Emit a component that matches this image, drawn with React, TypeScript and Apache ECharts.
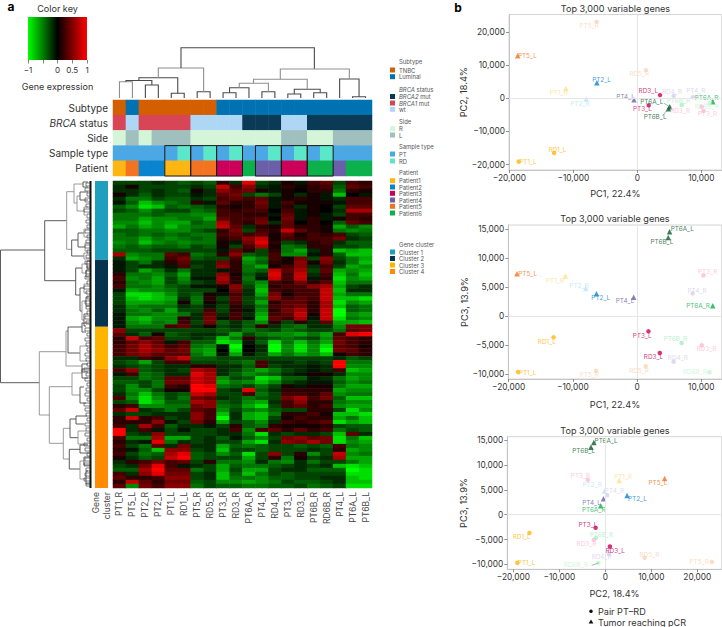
import React, { useEffect, useRef } from "react";
import * as echarts from "echarts";

const FONT = "Inter";

// ---------- data ----------
const sampleNames = ["PT1_R","PT5_L","PT2_R","PT2_L","PT1_L","RD1_L","PT5_R","RD5_R","PT3_R","RD3_R","PT6A_R","PT4_R","RD4_R","PT3_L","RD3_L","PT6B_R","RD6B_R","PT4_L","PT6A_L","PT6B_L"];
const pc1 = [-11170,-18700,-7990,-6320,-18540,-13000,-6370,1360,10340,10080,11800,8670,5690,1780,3550,6950,11280,-520,5070,4860];
const pc2 = [3020,12900,-200,4730,-19130,-16500,23160,8560,-3800,-2500,-1000,400,800,-2100,1000,-2000,-1500,-400,-2500,-3120];
const pc3 = [6920,7320,4780,3860,-9680,-3690,-9510,-8700,7030,-5070,1790,3920,-7900,-2650,-6400,-4670,-9740,3230,14580,13600];
const pcrSamples = ["PT5_L","PT1_R","PT2_R","PT2_L","PT4_L","PT6A_R","PT6A_L","PT6B_L"];

const annotationNames = ["Subtype","BRCA status","Side","Sample type","Patient"];
const subtypeRow = ["TNBC","Luminal","TNBC","TNBC","TNBC","TNBC","TNBC","TNBC","Luminal","Luminal","Luminal","Luminal","Luminal","Luminal","Luminal","Luminal","Luminal","Luminal","Luminal","Luminal"];
const brcaRow = ["BRCA1 mut","wt","BRCA1 mut","BRCA1 mut","BRCA1 mut","BRCA1 mut","wt","wt","wt","wt","BRCA2 mut","BRCA2 mut","BRCA2 mut","wt","wt","BRCA2 mut","BRCA2 mut","BRCA2 mut","BRCA2 mut","BRCA2 mut"];
const sideRow = ["R","L","R","L","L","L","R","R","R","R","R","R","R","L","L","R","R","L","L","L"];
const sampleTypeRow = ["PT","PT","PT","PT","PT","RD","PT","RD","PT","RD","PT","PT","RD","PT","RD","PT","RD","PT","PT","PT"];
const patientRow = ["Patient1","Patient5","Patient2","Patient2","Patient1","Patient1","Patient5","Patient5","Patient3","Patient3","Patient6","Patient4","Patient4","Patient3","Patient3","Patient6","Patient6","Patient4","Patient6","Patient6"];
const annotationRows = [subtypeRow, brcaRow, sideRow, sampleTypeRow, patientRow];
const pairBoxes = [[4,5],[6,7],[8,9],[11,12],[13,14],[15,16]];

const clusterNames = ["Cluster 1","Cluster 2","Cluster 3","Cluster 4"];
const clusterGenes = [770,655,410,1165];

// expression in tenths (-10..10), one row per gene band, columns as sampleNames
const cluster1Rows = [
[-3,-3,-3,-2,-3,-4,-3,-4,2,-2,9,-3,-2,1,-1,3,4,-3,3,2],
[-2,1,-3,-3,-3,-3,-2,-3,8,3,6,-2,-1,2,1,2,3,-4,4,3],
[-2,-2,-3,-2,-3,-4,1,-2,6,4,5,1,-1,1,0,2,2,-5,2,1],
[1,-2,-4,-2,-3,-3,-1,-2,4,5,-3,-5,-3,1,-2,1,-1,-8,0,-1],
[-2,-5,-5,-3,-4,-4,-2,-3,3,4,3,4,-1,1,2,1,-1,-2,3,3],
[-1,-4,-8,-6,-5,-4,2,-1,4,2,2,5,-1,3,1,1,1,-1,3,3],
[-4,-6,-9,-8,-4,-5,-4,-3,2,1,2,4,-1,2,-2,1,0,-3,4,4],
[-3,-4,-6,-4,-3,-3,-5,-4,3,2,3,3,0,3,-1,1,0,-2,7,7],
[-5,-5,-5,-4,-5,-5,-6,-6,3,3,2,2,-1,4,-1,1,-1,-3,3,3],
[-5,-5,-7,-6,-6,-5,-5,-7,4,3,3,4,0,5,-1,2,-1,1,3,2],
[-6,-6,-8,-6,-7,-7,-4,-5,7,3,2,5,-2,4,0,2,0,-4,4,3],
[-7,-5,-7,-6,-8,-6,-5,-5,8,4,-2,2,1,4,2,2,1,-7,-4,-6],
[-4,-4,-5,-5,-6,-6,-4,-3,2,5,-3,3,2,8,4,2,1,-5,-6,-5],
[-5,-4,-5,-4,-5,-4,-5,-5,3,4,3,4,1,4,1,3,2,3,-3,-4],
[-5,-5,-7,-5,-6,-5,-4,-5,2,3,6,8,1,3,2,3,3,5,-2,-3],
[-6,-5,-8,-6,-5,-6,-5,-5,1,-1,5,9,2,-3,-2,2,3,-2,-4,-4],
[-5,-4,-5,-4,-4,-5,-3,-4,1,-3,3,7,1,-5,-4,2,2,-3,-3,-4],
[-4,-4,-4,-3,-3,-3,-3,-3,-1,4,2,-3,2,-5,-7,-2,2,-8,-7,-8],
[7,-6,-5,-5,4,3,-5,-4,2,6,-4,-3,3,-6,-6,-1,2,-4,-8,-8],
[-2,-7,-6,-5,3,5,-4,-3,-3,3,-7,-5,3,1,5,-3,6,-3,-5,-7],
];
const cluster2Rows = [
[-1,-3,-5,-2,2,4,-2,-2,5,2,-6,-4,2,1,6,1,5,-2,-5,-8],
[-1,-3,-2,-2,-1,3,-3,-2,6,2,-5,-7,1,3,6,-2,3,-3,-7,-6],
[-1,-3,-7,-5,-2,-5,-2,-2,-1,2,-5,-4,8,4,7,-3,4,-7,-6,-7],
[2,-5,-5,-6,-4,-7,-2,-2,6,1,-4,-2,9,3,8,-2,3,-8,-5,-8],
[3,-6,-5,-7,-3,-6,-1,-1,7,2,-5,-1,8,3,8,-1,2,-9,-6,-7],
[2,-5,-6,-7,-3,-5,-3,-2,6,2,-4,-6,3,2,5,2,4,-8,-5,-5],
[3,-5,-5,-6,-4,-3,-1,-1,1,6,-3,-7,2,3,3,6,7,-7,-3,-2],
[-1,-7,-6,-6,-5,-3,-3,-3,0,5,-2,-8,3,2,3,3,8,-8,-2,-2],
[-3,-9,-9,-8,-6,-3,-4,1,-1,3,-2,-7,5,1,3,3,8,-7,-5,-5],
[-3,-8,-9,-8,-7,-2,-5,2,-3,4,-3,-5,6,3,4,3,8,-8,-8,-9],
[-3,-7,-7,-7,-6,1,-5,1,-2,3,-3,-7,2,4,4,2,7,-9,-6,-7],
[-2,-6,-5,-5,-5,-2,-3,-1,-3,2,-2,-5,3,4,5,2,7,-8,-4,-5],
[-2,-5,-6,-4,-7,-3,-3,3,-3,2,-1,-6,2,5,7,2,8,-10,-4,-5],
[-1,-5,-5,-6,-6,-5,-2,4,-2,3,-2,-7,3,4,8,1,8,-10,-6,-7],
[-1,-7,-8,-6,-6,2,-2,5,-1,3,-1,-8,4,3,7,-1,8,-9,-5,-6],
[-1,-6,-7,-5,-6,3,-3,5,-4,-2,-4,-6,2,-3,2,-2,4,-7,-7,-8],
[-1,-5,-5,-5,3,4,-2,1,-3,-2,-4,2,-2,-4,-5,-2,-2,-6,5,5],
];
const cluster3Rows = [
[6,-3,-3,-3,-3,-3,-3,-3,-4,-3,-5,-4,-3,-5,-4,-3,-3,-5,4,5],
[4,-2,-4,1,-4,-3,-2,-2,-3,-7,-3,-5,-6,-6,-7,-5,-7,3,9,10],
[2,8,3,4,-3,-3,-2,-3,-8,-5,2,-3,-4,-5,-4,-3,-6,4,3,2],
[2,4,6,4,-1,3,-4,-4,-9,-8,-1,-4,-9,-5,-8,-5,-7,5,3,2],
[3,5,7,5,3,4,-5,-6,-1,-10,0,-2,-10,-6,-9,-6,-9,4,3,1],
[3,5,7,6,4,5,-6,-7,0,-9,0,-2,-10,-6,-9,-6,-10,5,4,2],
[3,5,6,4,4,4,-5,-7,-1,-7,-1,-3,-7,-5,-7,-6,-8,1,3,2],
[-2,-2,3,2,6,8,-4,-4,-3,-3,-3,-3,-3,-3,-3,-3,-3,-2,-4,-3],
[-3,-4,-7,-3,3,3,-3,-3,-3,-4,-5,3,-2,-2,-3,-2,-3,10,-5,-5],
[-2,-3,-4,-3,-2,-2,2,2,-2,-2,-4,3,-3,-2,-2,-1,-2,10,-6,-6],
];
const cluster4Rows = [
[3,6,-4,-3,-2,-3,7,6,-2,-3,-5,-7,-5,-3,-2,-1,-2,3,-8,-7],
[-1,3,-5,-4,-2,-2,9,7,-2,-4,-6,-5,-4,-2,-1,1,1,-2,-6,-6],
[-3,-3,-5,-4,4,4,8,7,-6,-3,-4,-9,-8,-4,-4,-1,-2,-5,-7,-6],
[-4,-4,-3,-5,5,5,8,7,-7,-5,-6,-8,-6,-3,-2,-1,-1,-4,-6,-5],
[-3,-6,-3,-5,3,2,10,9,-5,-4,-3,-5,-3,1,-1,1,1,-5,-7,-7],
[-3,-6,-6,-3,1,1,10,10,-3,-2,9,-4,-2,2,2,2,2,-7,-6,-6],
[-2,-5,-8,-5,-3,-4,8,7,-3,-3,3,-5,-3,3,3,2,4,-6,-5,-5],
[3,-6,-9,-6,-3,-5,5,4,-2,-3,-5,-4,-3,5,7,3,5,-4,-8,-8],
[-3,-4,-9,-7,-4,-4,7,6,-4,-3,-6,-7,-2,3,6,2,2,-5,-6,-6],
[2,3,-6,-6,-5,-5,5,6,-5,-4,-7,-9,-3,3,4,2,3,-6,-7,-7],
[4,8,-2,-3,-5,-3,4,3,-6,-3,-5,-6,-4,-3,-3,2,2,-3,-9,-6],
[-2,-3,-3,-2,-2,-2,6,3,-8,-2,-7,-8,-5,2,2,3,1,-8,-8,-9],
[2,8,2,3,-3,-2,6,3,-10,-2,-7,-8,-3,1,3,2,2,-7,-5,-8],
[2,2,2,6,-1,-3,5,2,-7,-3,-4,-6,-2,3,2,3,4,-9,-7,-8],
[3,-2,7,3,-4,-2,-2,-1,-3,2,-4,-5,2,1,1,1,2,-3,-4,-4],
[10,-2,3,-1,-3,-1,-3,-3,-2,3,-6,3,4,2,4,2,3,-5,-3,-4],
[10,-3,-2,6,-3,-3,-3,-3,-2,-2,-5,-9,-2,-3,-2,-2,-3,-8,4,-2],
[3,-5,-5,7,-7,-7,-3,-2,-4,-1,-4,-6,-3,5,6,4,5,-9,-5,-8],
[2,-2,-1,9,-5,-2,-3,-2,-3,-3,-7,-9,-2,6,5,7,5,-9,-6,-7],
[3,-3,-5,4,-2,5,-2,-2,-7,-4,-5,-4,-3,-3,-4,-3,-4,3,-5,-6],
[2,-1,-4,-8,6,6,-3,-2,-8,-3,-3,-4,-3,-3,-3,-2,-3,2,-7,-6],
[3,-3,-5,-4,7,9,-4,-3,-6,-4,-9,-3,6,-3,2,-6,-3,8,-6,-5],
[1,-2,-4,-3,8,10,-4,-3,-3,-3,-7,-3,2,-5,1,-3,-2,7,-7,-7],
[-2,2,3,5,3,4,-3,2,-5,-5,-6,-2,-5,-6,-2,-5,-3,-3,-5,-7],
[-3,-2,5,9,3,-1,-2,-3,-7,-4,-5,-5,-4,-3,-2,-3,-2,-8,-9,-8],
[-4,-4,7,10,4,4,-5,-3,-7,-3,-7,-7,-3,-2,-2,-4,-4,-4,-10,-9],
[3,-2,6,9,5,5,-3,-2,-8,-4,-8,-5,-3,-4,-3,-3,-3,-3,-9,-9],
[4,2,2,3,6,6,-3,-2,-8,-5,-5,-6,-4,-4,-3,-3,-2,-2,-8,-9],
[2,8,4,2,5,5,-4,-3,-6,-6,-7,-6,-5,-3,-4,-4,-3,-2,-8,-8],
[4,-6,5,3,6,6,-5,-3,-4,-4,-5,-5,-4,-4,-3,-5,-4,-3,-9,-9],
];

// sample dendrogram: [x1, h1, x2, h2, top, shade]
const sampleLinks = [
[0.5,0,1.5,0,16.3,1],[2.5,0,3.5,0,13,0],[1,16.3,3,13,17.5,0],[4.5,0,5.5,0,4.7,0],[2,17.5,5,4.7,20.3,0],
[6.5,0,7.5,0,6.3,0],[3.5,20.3,7,6.3,30,1],[5.25,30,15.55,29,50.3,0],
[8.5,0,9.5,0,5.3,0],[9,5.3,10.5,0,10.3,0],[11.5,0,12.5,0,6.3,0],[9.75,10.3,12,6.3,14.7,1],
[13.5,0,14.5,0,4,0],[15.5,0,16.5,0,5.3,0],[14,4,16,5.3,8.7,0],[10.85,14.7,15,8.7,18.7,1],
[18.5,0,19.5,0,1.3,0],[17.5,0,19,1.3,19,0],[12.92,18.7,18.25,19,29,1],
];
// gene dendrogram: [y1, x1, y2, x2, top, shade]
const geneLinks = [
[69,44.7,201.7,39.3,0.5,0],
[39.7,66.7,99.7,75.7,44.7,0],[10.7,74,68.3,71.7,66.7,1],
[3,83,22,77,74,1],[1,88,6,88,83,0],[15,80,30,84,77,1],[11,88,19,88,80,0],[26,88,34,86,84,1],
[59,78,75,84,71.7,0],[52,84,66,85,78,0],[48,89,56,89,84,1],[62,89,70,89,85,1],[72,88,78,89,84,1],
[87,82,114,80,75.7,0],[83,87,92,86,82,1],[80,90,87,90,87,0],[89,89,96,89,86,0],[107,84,130,82,80,0],[103,88,112,88,84,1],[120,86,139,84,82,1],[116,89,125,89,86,0],[133,88,145,86,84,0],
[170.7,66,234,49.3,39.3,1],[150,68,185,82,66,1],[146,82,172,80,68,0],[142,89,151,86,82,0],[165,88,180,87,80,1],[183,88,191,88,82,0],
[205.7,72,262.3,63.3,49.3,1],[192,82,214,80,72,1],[188,90,197,88,82,0],[206,84,222,86,80,0],
[247.3,70,278,69.3,63.3,1],[238,76,256.7,78,70,0],[268.3,80,288,80,69.3,0],[235,87,243,84,76,0],[250,86,263,88,78,1],[264,88,272,89,80,0],[280,84,298,86,80,1],[290,88,303,90,86,0],[276,90,284,90,84,0],
];
// finest gene branches next to the leaves
const geneLeafLinks = [
[2,90,5,90,86],[7,90,10,90,85],[12,90,15,90,87],[17,90,21,90,85],[23,90,26,90,86],[28,90,31,90,84],[33,90,37,90,87],[39,90,42,90,86],[44,90,47,90,87],[49,90,52,90,85],
[54,90,57,90,87],[59,90,62,90,86],[64,90,67,90,85],[69,90,72,90,87],[74,90,77,90,86],[80,90,83,90,85],[85,90,88,90,87],[90,90,93,90,86],[95,90,98,90,85],[100,90,103,90,87],
[105,90,108,90,84],[110,90,113,90,86],[115,90,118,90,87],[120,90,123,90,85],[125,90,128,90,86],[130,90,133,90,87],[135,90,138,90,85],[140,90,143,90,86],[147,90,150,90,85],[152,90,155,90,87],
[157,90,160,90,85],[162,90,165,90,86],[167,90,170,90,87],[172,90,175,90,85],[177,90,180,90,86],[182,90,185,90,87],[187,90,190,90,84],[192,90,195,90,86],[197,90,200,90,85],[202,90,205,90,87],
[207,90,210,90,86],[212,90,215,90,85],[217,90,220,90,87],[222,90,225,90,84],[227,90,230,90,85],[232,90,235,90,86],[237,90,240,90,87],[242,90,245,90,85],[247,90,250,90,86],[252,90,255,90,85],
[257,90,260,90,87],[262,90,265,90,84],[267,90,270,90,85],[272,90,275,90,87],[277,90,280,90,85],[282,90,285,90,84],[287,90,290,90,86],[292,90,295,90,85],[297,90,300,90,84],[302,90,305,90,86],
];

const xTicks12 = [-20000,-10000,0,10000];
const xTicks3 = [-20000,-10000,0,10000,20000];
const yTicksPc2 = [-20000,-10000,0,10000,20000];
const yTicksPc3 = [-10000,-5000,0,5000,10000,15000];
const keyTicks = [-1,-0.5,0,0.5,1];
const keyLabels = [-1,0,0.5,1];
// leader lines between a label and its point: [x1, y1, x2, y2]
const leaders1 = [[4180,-1510,5070,-2500],[3920,-5240,4860,-3120]];
const leaders3 = [[-2970,-10215,-1500,-9740]];

// ---------- styles and positions ----------
const annotationColors: Record<string,string> = {
  TNBC:"#D35F00",Luminal:"#0072B2","BRCA2 mut":"#0B3A57","BRCA1 mut":"#D84557",wt:"#AED6F5",R:"#D5F5D8",L:"#A0BFBF",PT:"#4CA8E4",RD:"#5CE8C8",
  Patient1:"#FFB612",Patient2:"#0B84CF",Patient3:"#CC0058",Patient4:"#6C5FAA",Patient5:"#F47320",Patient6:"#0DB14B",
};
const clusterColors = ["#1F9FBE","#06344F","#FFB400","#FF8C00"];
const sampleColors: Record<string,string> = {
  PT1_R:"#FFE08C",PT5_L:"#F47320",PT2_R:"#B9E4FF",PT2_L:"#0B84CF",PT1_L:"#FFB612",RD1_L:"#FFB612",PT5_R:"#FBD3B5",RD5_R:"#FBD3B5",PT3_R:"#FFB9D2",RD3_R:"#FFB9D2",
  PT6A_R:"#0DB14B",PT4_R:"#D5D0EC",RD4_R:"#D5D0EC",PT3_L:"#CC0058",RD3_L:"#CC0058",PT6B_R:"#A6F0BE",RD6B_R:"#C4F5CF",PT4_L:"#6C5FAA",PT6A_L:"#0B5D2E",PT6B_L:"#0B5D2E",
};
const offsets1: Record<string,number[]> = {PT5_R:[-7.3,4],PT5_L:[9.7,0.7],RD5_R:[-6.7,3.7],PT2_L:[4.7,-3],PT1_R:[-7,4.3],PT2_R:[-6.3,4.7],RD3_L:[-11.7,-3.7],RD4_R:[-1.7,-3.3],PT4_R:[3,-5.7],PT4_L:[-8.3,-3],PT6A_R:[-6.3,-3.3],PT6B_R:[-3.3,-4],RD6B_R:[-2.7,4],PT3_L:[-6.3,4],RD3_R:[-21.7,4.3],PT3_R:[4,3.3],PT6A_L:[-18,-5],PT6B_L:[-13.3,8.7],RD1_L:[3.3,-3],PT1_L:[9.3,0]};
const offsets2: Record<string,number[]> = {PT6A_L:[12.7,-2.7],PT6B_L:[-6.3,4.3],PT3_R:[4.3,-3.3],PT5_L:[10.7,0.7],PT1_R:[-10.3,4.7],PT2_R:[-6.7,-2.7],PT2_L:[4.3,4],PT4_L:[-8.7,4],PT4_R:[4.3,-2.7],PT6A_R:[-14.7,0.7],PT3_L:[-6.3,4.3],RD1_L:[-6.7,4.3],PT6B_R:[-6.3,-3.7],RD3_R:[4.7,4],RD3_L:[-6.3,4.3],RD4_R:[4.3,-3.3],RD5_R:[-6.7,4.3],PT5_R:[-6.7,4.3],RD6B_R:[-14.7,0],PT1_L:[9.7,0.7]};
const offsets3: Record<string,number[]> = {PT6A_L:[12.3,-1.3],PT6B_L:[-7.3,4],PT3_R:[-7.3,-3.7],PT2_R:[-12.3,-6.3],PT1_R:[4,-3.3],PT5_L:[-6.7,4.3],PT4_R:[7.3,-4],PT2_L:[10.3,3.7],PT4_L:[-12,4.3],PT6A_R:[-7,4],PT3_L:[-7.7,-3.3],RD1_L:[-7.7,4],PT6B_R:[5.3,-3.3],RD3_R:[-7.3,3.7],RD3_L:[5.3,4.3],RD4_R:[-7.3,3],RD5_R:[4.7,-3],PT5_R:[-12.7,0.3],RD6B_R:[-22.7,2.3],PT1_L:[9.3,0]};

const legendBlocks = [
  {title:"Subtype",titleY:61.7,items:["TNBC","Luminal"],colorOf:annotationColors,ys:[70,76.7]},
  {title:"{i|BRCA} status",titleY:89.3,items:["BRCA2 mut","BRCA1 mut","wt"],colorOf:annotationColors,ys:[96.5,103,109.3]},
  {title:"Side",titleY:121,items:["R","L"],colorOf:annotationColors,ys:[128.7,135]},
  {title:"Sample type",titleY:146.7,items:["PT","RD"],colorOf:annotationColors,ys:[154,161]},
  {title:"Patient",titleY:172.7,items:["Patient1","Patient2","Patient3","Patient4","Patient5","Patient6"],colorOf:annotationColors,ys:[180.7,187,193.3,200,206.3,213]},
  {title:"Gene cluster",titleY:244.7,items:clusterNames,colorOf:Object.fromEntries(clusterNames.map((n,i)=>[n,clusterColors[i]])) as Record<string,string>,ys:[252,258.5,265,271.5]},
];

const fmt = (v:number)=> v===0 ? "0" : (v<0?"\u2212":"")+Math.abs(v).toLocaleString("en-US");

const heatRows = [...cluster1Rows,...cluster2Rows,...cluster3Rows,...cluster4Rows];
const annotationKeys = Object.keys(annotationColors);

function buildOption(){
  const grids:any[]=[], xAxes:any[]=[], yAxes:any[]=[], series:any[]=[];
  const addGrid=(g:any,x:any,y:any)=>{grids.push(g);xAxes.push({...x,gridIndex:grids.length-1});yAxes.push({...y,gridIndex:grids.length-1});return grids.length-1;};

  // colour key
  const gKey=addGrid({left:28,top:17,width:59,height:43},
    {type:"value",min:-1,max:1,axisLine:{show:false},splitLine:{show:false},
     axisTick:{show:true,length:3.5,customValues:keyTicks,lineStyle:{color:"#666",width:0.8}},
     axisLabel:{customValues:keyLabels,margin:6,fontSize:8,color:"#333",fontFamily:FONT,formatter:(v:number)=>v<0?"\u2212"+Math.abs(v):String(v)},
     name:"Gene expression",nameLocation:"middle",nameGap:22,nameTextStyle:{fontSize:9,color:"#333",fontFamily:FONT}},
    {type:"value",min:0,max:1,show:false});
  series.push({type:"custom",xAxisIndex:gKey,yAxisIndex:gKey,coordinateSystem:"cartesian2d",silent:true,clip:false,data:[[-1,0,1,1]],
    renderItem:(_:any,api:any)=>{const a=api.coord([api.value(0),api.value(3)]),b=api.coord([api.value(2),api.value(1)]);
      return {type:"rect",shape:{x:a[0],y:a[1],width:b[0]-a[0],height:b[1]-a[1]},style:{fill:new echarts.graphic.LinearGradient(0,0,1,0,[{offset:0,color:"#00FF00"},{offset:0.5,color:"#000"},{offset:1,color:"#FF0000"}])}};}});

  // sample dendrogram
  const gTop=addGrid({left:113,top:46,width:259,height:52},{type:"value",min:0,max:20,show:false},{type:"value",min:0,max:52,show:false});
  series.push({type:"custom",xAxisIndex:gTop,yAxisIndex:gTop,coordinateSystem:"cartesian2d",silent:true,clip:false,data:sampleLinks,
    renderItem:(_:any,api:any)=>{const v=(i:number)=>api.value(i);const p=[[v(0),v(1)],[v(0),v(4)],[v(2),v(4)],[v(2),v(3)]].map((q)=>api.coord(q));
      return {type:"polyline",shape:{points:p},style:{fill:"none",stroke:v(5)?"#8f8f8f":"#4a4a4a",lineWidth:1.1}};}});

  // gene dendrogram
  const gLeft=addGrid({left:0,top:181,width:92,height:307},{type:"value",min:0,max:92,show:false},{type:"value",min:0,max:307,inverse:true,show:false});
  const linkRender=(width:number)=>(_:any,api:any)=>{const v=(i:number)=>api.value(i);const p=[[v(1),v(0)],[v(4),v(0)],[v(4),v(2)],[v(3),v(2)]].map((q)=>api.coord(q));
      return {type:"polyline",shape:{points:p},style:{fill:"none",stroke:v(5)?"#8f8f8f":"#4a4a4a",lineWidth:width}};};
  series.push({type:"custom",xAxisIndex:gLeft,yAxisIndex:gLeft,coordinateSystem:"cartesian2d",silent:true,clip:false,data:geneLinks,renderItem:linkRender(0.9)});
  series.push({type:"custom",xAxisIndex:gLeft,yAxisIndex:gLeft,coordinateSystem:"cartesian2d",silent:true,clip:false,data:geneLeafLinks.map((l)=>[...l,0]),renderItem:linkRender(0.7)});
  series.push({type:"custom",xAxisIndex:gLeft,yAxisIndex:gLeft,coordinateSystem:"cartesian2d",silent:true,clip:false,data:[[89.5,0,91.5,307]],
    renderItem:(_:any,api:any)=>{const a=api.coord([api.value(0),api.value(1)]),b=api.coord([api.value(2),api.value(3)]);
      return {type:"rect",shape:{x:a[0],y:a[1],width:b[0]-a[0],height:b[1]-a[1]},style:{fill:"#111"}};}});

  // cluster strip
  const gCl=addGrid({left:95,top:181,width:13,height:307},
    {type:"category",data:["Gene\ncluster"],axisLine:{show:false},axisTick:{show:false},
     axisLabel:{rotate:90,margin:4,fontSize:8.5,lineHeight:11,color:"#444",fontFamily:FONT,align:"right"}},
    {type:"value",min:0,max:3000,inverse:true,show:false});
  clusterNames.forEach((n,i)=>series.push({type:"bar",name:n,stack:"cl",xAxisIndex:gCl,yAxisIndex:gCl,barWidth:"100%",silent:true,data:[clusterGenes[i]],itemStyle:{color:clusterColors[i]}}));

  // annotation rows
  const gAnn=addGrid({left:113,top:100,width:259,height:76},
    {type:"category",data:sampleNames,show:false},
    {type:"category",data:annotationNames,inverse:true,axisLine:{show:false},axisTick:{show:false},
     axisLabel:{margin:5,fontSize:10,color:"#333",fontFamily:FONT,
       formatter:(s:string)=>s==="BRCA status"?"{i|BRCA} status":s,
       rich:{i:{fontStyle:"italic",fontSize:10,color:"#333",fontFamily:FONT}}}});
  const annIdx=series.length;
  series.push({type:"heatmap",xAxisIndex:gAnn,yAxisIndex:gAnn,silent:true,
    data:annotationRows.flatMap((row,r)=>row.map((k,c)=>[c,r,annotationKeys.indexOf(k)]))});
  series.push({type:"custom",xAxisIndex:gAnn,yAxisIndex:gAnn,coordinateSystem:"cartesian2d",silent:true,clip:false,data:pairBoxes,
    renderItem:(p:any,api:any)=>{const [a,b]=pairBoxes[p.dataIndex];const s=api.size([1,1]);const c=api.coord([a,3]);
      return {type:"rect",shape:{x:c[0]-s[0]/2,y:c[1]-s[1]/2,width:s[0]*(b-a+1),height:s[1]*2},style:{fill:"none",stroke:"#1a1a1a",lineWidth:1}};}});

  // heat map
  const gHeat=addGrid({left:113,top:181,width:259,height:307},
    {type:"category",data:sampleNames,axisLine:{show:false},axisTick:{show:false},
     axisLabel:{interval:0,rotate:90,margin:4,fontSize:8.5,color:"#444",fontFamily:FONT}},
    {type:"category",data:heatRows.map((_,i)=>String(i)),inverse:true,show:false});
  const heatIdx=series.length;
  series.push({type:"heatmap",xAxisIndex:gHeat,yAxisIndex:gHeat,silent:true,
    data:heatRows.flatMap((row,r)=>row.map((v,c)=>[c,r,v/10]))});

  // scatter panels
  const panel=(g:any,xs:number[],ys:number[],xr:number[],yr:number[],xt:number[],yt:number[],xn:string,yn:string,offs:Record<string,number[]>,nameGapX:number,leaders:number[][])=>{
    const ax=(r:number[],t:number[],n:string,gap:number)=>({type:"value",min:r[0],max:r[1],
      axisLine:{show:true,onZero:false,lineStyle:{color:"#c4c4c4",width:1}},
      axisTick:{show:true,length:3,customValues:t,lineStyle:{color:"#777",width:0.8}},splitLine:{show:false},
      axisLabel:{customValues:t,margin:4,fontSize:8.3,color:"#333",fontFamily:FONT,formatter:(v:number)=>fmt(v)},
      name:n,nameLocation:"middle",nameGap:gap,nameTextStyle:{fontSize:9.2,color:"#333",fontFamily:FONT}});
    const i=addGrid({...g,show:true,borderColor:"#d4d4d4",borderWidth:1,backgroundColor:"transparent"},ax(xr,xt,xn,nameGapX),ax(yr,yt,yn,36));
    leaders.forEach((l)=>series.push({type:"line",xAxisIndex:i,yAxisIndex:i,silent:true,showSymbol:false,data:[[l[0],l[1]],[l[2],l[3]]],lineStyle:{color:"#5d8a70",width:0.6}}));
    series.push({type:"scatter",xAxisIndex:i,yAxisIndex:i,silent:true,clip:false,
      markLine:{silent:true,symbol:"none",animation:false,label:{show:false},lineStyle:{color:"#e6e6e6",width:1,type:"solid"},data:[{xAxis:0},{yAxis:0}]},
      data:sampleNames.map((n,k)=>{
        const tri=pcrSamples.includes(n);
        return {name:n,value:[xs[k],ys[k]],symbol:tri?"triangle":"circle",symbolSize:tri?5.5:4.5,itemStyle:{color:sampleColors[n]},
          label:{show:true,position:"inside",offset:offs[n],formatter:n,fontSize:6.4,fontFamily:FONT,color:sampleColors[n],align:"center",verticalAlign:"middle"}};
      })});
    return i;
  };
  panel({left:509,top:14.5,width:212.7,height:155.5},pc1,pc2,[-20050,13190],[-21660,25380],xTicks12,yTicksPc2,"PC1, 22.4%","PC2, 18.4%",offsets1,19,leaders1);
  panel({left:508.3,top:225,width:213.4,height:154},pc1,pc3,[-20050,13190],[-10900,15750],xTicks12,yTicksPc3,"PC1, 22.4%","PC3, 13.9%",offsets2,21,[]);
  panel({left:507.3,top:436.7,width:214.4,height:132.6},pc2,pc3,[-21300,25300],[-11008,15726],xTicks3,yTicksPc3,"PC2, 18.4%","PC3, 13.9%",offsets3,20,leaders3);

  // free texts
  const txt=(text:string,x:number,y:number,extra:any={})=>({type:"text",x,y,silent:true,style:{text,fontSize:9.1,fontFamily:FONT,fill:"#333",align:"center",verticalAlign:"middle",...extra}});
  const graphic:any[]=[
    txt("a",11,6,{fontSize:12,fontWeight:"bold",fill:"#000"}),
    txt("b",458,7,{fontSize:12,fontWeight:"bold",fill:"#000"}),
    txt("Color key",57.5,8),
    txt("Top 3,000 variable genes",615.5,8),
    txt("Top 3,000 variable genes",615,218.5),
    txt("Top 3,000 variable genes",615,430),
    {type:"circle",silent:true,shape:{cx:591,cy:611.3,r:1.8},style:{fill:"#111"}},
    {type:"polygon",silent:true,shape:{points:[[591,619.5],[593.4,623.5],[588.6,623.5]]},style:{fill:"#111"}},
    txt("Pair PT\u2013RD",598,611.3,{align:"left"}),
    txt("Tumor reaching pCR",598,622,{align:"left"}),
  ];
  const LEG=5.9;
  legendBlocks.forEach((b)=>{
    graphic.push(txt(b.title,399,b.titleY,{align:"left",fontSize:LEG,fill:"#555",rich:{i:{fontStyle:"italic",fontSize:LEG,fill:"#555",fontFamily:FONT}}}));
    b.items.forEach((it,i)=>{
      graphic.push({type:"rect",silent:true,shape:{x:390,y:b.ys[i]-2.5,width:5,height:5},style:{fill:b.colorOf[it]}});
      let label=it, rich:any=undefined;
      if(it==="BRCA2 mut"||it==="BRCA1 mut"){label="{i|"+it.slice(0,5)+"} mut";rich={i:{fontStyle:"italic",fontSize:LEG,fill:"#555",fontFamily:FONT}};}
      graphic.push(txt(label,399,b.ys[i],{align:"left",fontSize:LEG,fill:"#555",...(rich?{rich}:{})}));
    });
  });

  return {
    animation:false,backgroundColor:"#fff",
    textStyle:{fontFamily:FONT},
    grid:grids,xAxis:xAxes,yAxis:yAxes,series,graphic,
    visualMap:[
      {type:"continuous",show:false,seriesIndex:heatIdx,dimension:2,min:-1,max:1,inRange:{color:["#00FF00","#00C000","#008a00","#005c00","#002c00","#000000","#2c0000","#5c0000","#8a0000","#c40000","#FF0000"].map((c,i)=>c)}},
      {type:"piecewise",show:false,seriesIndex:annIdx,dimension:2,pieces:annotationKeys.map((k,i)=>({value:i,color:annotationColors[k]}))},
    ],
  };
}

export default function App(){
  const ref=useRef<HTMLDivElement>(null);
  useEffect(()=>{
    document.body.style.margin="0";
    const chart=echarts.init(ref.current!,undefined,{renderer:"svg"});
    chart.setOption(buildOption() as any);
    return ()=>chart.dispose();
  },[]);
  return <div ref={ref} style={{position:"absolute",left:0,top:0,width:722,height:627}}/>;
}
